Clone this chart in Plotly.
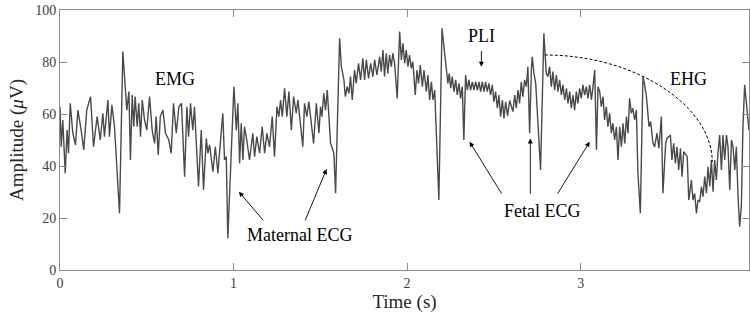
import plotly.graph_objects as go

time_s = [
    0.000, 0.007, 0.016, 0.030, 0.041, 0.049, 0.059, 0.074, 0.089, 0.103,
    0.122, 0.137, 0.154, 0.176, 0.193, 0.214, 0.232, 0.247, 0.256, 0.276,
    0.285, 0.299, 0.314, 0.324, 0.343, 0.362, 0.385, 0.397, 0.406, 0.416,
    0.425, 0.433, 0.445, 0.454, 0.464, 0.474, 0.487, 0.500, 0.516, 0.531,
    0.545, 0.554, 0.566, 0.578, 0.593, 0.608, 0.627, 0.641, 0.654, 0.670,
    0.685, 0.700, 0.718, 0.731, 0.741, 0.752, 0.765, 0.775, 0.798, 0.814,
    0.827, 0.843, 0.852, 0.862, 0.881, 0.895, 0.910, 0.919, 0.938, 0.948,
    0.958, 0.967, 1.002, 1.016, 1.025, 1.035, 1.044, 1.054, 1.063, 1.076,
    1.092, 1.111, 1.121, 1.134, 1.150, 1.165, 1.179, 1.192, 1.207, 1.223,
    1.236, 1.250, 1.261, 1.271, 1.281, 1.294, 1.307, 1.319, 1.333, 1.346,
    1.361, 1.371, 1.384, 1.399, 1.409, 1.422, 1.434, 1.448, 1.461, 1.477,
    1.492, 1.501, 1.509, 1.520, 1.530, 1.540, 1.549, 1.559, 1.569, 1.578,
    1.588, 1.611, 1.621, 1.636, 1.644, 1.655, 1.665, 1.674, 1.684, 1.697,
    1.707, 1.720, 1.732, 1.745, 1.755, 1.765, 1.778, 1.790, 1.803, 1.813,
    1.826, 1.842, 1.851, 1.861, 1.870, 1.880, 1.889, 1.899, 1.909, 1.918,
    1.928, 1.943, 1.957, 1.967, 1.976, 1.986, 1.995, 2.005, 2.014, 2.024,
    2.033, 2.047, 2.057, 2.066, 2.076, 2.088, 2.097, 2.111, 2.120, 2.130,
    2.140, 2.149, 2.159, 2.183, 2.201, 2.216, 2.226, 2.235, 2.243, 2.251,
    2.260, 2.270, 2.280, 2.289, 2.299, 2.308, 2.318, 2.327, 2.337, 2.347,
    2.356, 2.366, 2.376, 2.385, 2.395, 2.405, 2.414, 2.424, 2.433, 2.443,
    2.452, 2.462, 2.471, 2.481, 2.491, 2.500, 2.510, 2.520, 2.529, 2.539,
    2.549, 2.558, 2.568, 2.579, 2.591, 2.610, 2.620, 2.629, 2.639, 2.648,
    2.658, 2.667, 2.677, 2.687, 2.696, 2.706, 2.716, 2.721, 2.731, 2.741,
    2.769, 2.788, 2.802, 2.811, 2.821, 2.831, 2.840, 2.850, 2.860, 2.869,
    2.879, 2.889, 2.898, 2.908, 2.918, 2.927, 2.937, 2.946, 2.956, 2.965,
    2.975, 2.984, 2.994, 3.004, 3.013, 3.023, 3.033, 3.042, 3.052, 3.062,
    3.071, 3.081, 3.091, 3.100, 3.110, 3.119, 3.129, 3.138, 3.148, 3.157,
    3.167, 3.177, 3.186, 3.196, 3.206, 3.215, 3.225, 3.235, 3.244, 3.254,
    3.264, 3.273, 3.282, 3.292, 3.301, 3.311, 3.321, 3.330, 3.344, 3.359,
    3.369, 3.379, 3.394, 3.403, 3.417, 3.426, 3.440, 3.451, 3.465, 3.474,
    3.490, 3.497, 3.509, 3.517, 3.526, 3.536, 3.546, 3.555, 3.565, 3.575,
    3.584, 3.594, 3.614, 3.623, 3.638, 3.647, 3.657, 3.667, 3.676, 3.686,
    3.696, 3.705, 3.715, 3.725, 3.734, 3.744, 3.753, 3.763, 3.772, 3.782,
    3.791, 3.801, 3.811, 3.820, 3.830, 3.840, 3.849, 3.859, 3.869, 3.878,
    3.888, 3.897, 3.907, 3.916, 3.926, 3.935, 3.945, 3.958, 3.970,
]

amplitude_uV = [
    62.8, 47.4, 57.7, 37.2, 53.8, 44.9, 64.1, 52.6, 48.1, 61.5,
    53.8, 46.2, 61.5, 66.7, 47.4, 59.0, 50.0, 60.3, 51.3, 65.4,
    51.3, 63.5, 55.1, 42.3, 21.8, 84.0, 61.5, 68.6, 42.3, 67.3,
    55.1, 66.7, 55.1, 64.1, 51.3, 65.4, 57.7, 53.8, 66.7, 53.8,
    48.7, 59.0, 44.2, 59.0, 61.5, 52.6, 50.0, 44.9, 64.1, 52.6,
    62.8, 64.1, 35.9, 62.8, 51.3, 64.1, 53.8, 62.8, 32.1, 53.8,
    30.8, 50.6, 44.9, 48.1, 37.8, 47.4, 37.2, 44.9, 60.3, 42.3,
    43.6, 12.2, 70.5, 53.8, 64.1, 41.0, 56.4, 42.3, 55.1, 50.0,
    42.3, 52.6, 43.6, 51.3, 44.9, 55.1, 44.9, 52.6, 47.4, 59.0,
    43.6, 62.8, 59.0, 65.4, 59.0, 69.9, 59.0, 68.6, 53.8, 66.7,
    60.3, 65.4, 57.7, 47.4, 64.1, 59.0, 64.7, 55.1, 48.7, 64.1,
    52.6, 62.8, 59.0, 68.0, 61.5, 69.2, 57.7, 48.7, 46.8, 44.9,
    29.5, 89.1, 78.2, 73.1, 66.7, 70.5, 68.0, 74.4, 65.4, 76.9,
    71.8, 79.5, 73.1, 81.4, 73.1, 80.8, 73.7, 79.5, 74.4, 80.8,
    75.0, 82.0, 76.3, 84.6, 74.4, 83.3, 75.6, 82.7, 78.2, 83.3,
    79.5, 66.0, 91.7, 80.8, 87.2, 79.5, 84.6, 78.2, 82.7, 77.6,
    80.1, 67.3, 76.9, 71.8, 78.8, 70.5, 76.9, 68.6, 75.0, 65.4,
    72.4, 65.4, 69.2, 26.9, 93.0, 84.6, 76.9, 71.8, 75.6, 69.9,
    74.4, 68.6, 73.1, 67.3, 71.8, 66.0, 70.5, 50.0, 75.0, 69.2,
    73.1, 69.2, 72.4, 69.2, 72.4, 69.2, 72.4, 68.6, 72.4, 68.6,
    72.4, 68.6, 71.8, 67.3, 71.2, 64.7, 68.6, 62.2, 67.3, 59.0,
    65.4, 58.3, 64.7, 59.3, 65.2, 60.9, 67.3, 62.2, 69.2, 64.1,
    72.4, 66.7, 73.1, 70.5, 78.2, 52.6, 76.9, 82.0, 75.6, 71.8,
    38.5, 91.0, 75.6, 74.4, 78.2, 70.5, 76.3, 69.2, 75.0, 68.6,
    73.1, 67.3, 71.2, 65.4, 69.9, 64.1, 68.6, 62.2, 67.3, 61.5,
    68.6, 64.1, 69.9, 66.0, 71.2, 67.3, 70.5, 66.0, 71.2, 65.4,
    70.5, 76.9, 46.2, 70.5, 68.6, 62.8, 66.7, 57.7, 62.8, 55.1,
    60.3, 52.6, 56.4, 50.0, 55.1, 42.3, 55.1, 47.4, 56.4, 48.7,
    59.0, 52.6, 66.0, 60.3, 62.2, 57.7, 61.5, 37.2, 21.8, 74.4,
    71.2, 66.7, 55.1, 57.1, 48.7, 47.4, 52.6, 46.8, 59.0, 29.5,
    48.7, 50.6, 51.3, 51.9, 42.3, 48.7, 41.0, 47.4, 38.5, 46.8,
    35.9, 45.5, 43.6, 26.9, 34.6, 26.9, 29.5, 21.8, 26.9, 26.3,
    32.1, 28.2, 35.9, 29.5, 39.7, 32.1, 42.3, 30.1, 42.3, 34.6,
    44.9, 51.9, 38.5, 51.9, 42.3, 51.9, 47.4, 30.8, 50.0, 47.4,
    38.5, 47.4, 28.2, 16.7, 24.4, 55.1, 71.2, 61.5, 53.8,
]

x_ticks = [0, 1, 2, 3]
y_ticks = [0, 20, 40, 60, 80, 100]

SERIF = "Liberation Serif, Times New Roman, serif"
AXIS_COL = "#8c8c8c"
TEXT_COL = "#262626"

fig = go.Figure()
fig.add_trace(go.Scatter(
    x=time_s, y=amplitude_uV, mode="lines",
    line=dict(color="#4a4a4a", width=1.4),
    hoverinfo="skip", showlegend=False,
))

# dashed envelope curve (EHG)
fig.add_shape(
    type="path", xref="x", yref="y",
    path="M 2.793 82.7 C 3.330 82.7, 3.761 62.5, 3.758 41.5",
    line=dict(color="black", width=1, dash="3px,2px"),
)

labels = [
    ("EMG", 0.660, 73.5),
    ("PLI", 2.429, 90.0),
    ("EHG", 3.622, 73.5),
    ("Maternal ECG", 1.380, 13.5),
    ("Fetal ECG", 2.778, 22.7),
]
for txt, x, y in labels:
    fig.add_annotation(x=x, y=y, text=txt, showarrow=False,
                       font=dict(family=SERIF, size=18, color="black"),
                       xanchor="center", yanchor="middle")

arrows = [  # (head_x, head_y, tail_x, tail_y)
    (2.428, 78.2, 2.428, 84.8),
    (1.031, 30.1, 1.179, 18.5),
    (1.536, 38.8, 1.409, 18.5),
    (2.360, 49.3, 2.550, 28.8),
    (2.710, 50.6, 2.710, 28.8),
    (3.052, 49.3, 2.862, 28.8),
]
for hx, hy, tx, ty in arrows:
    fig.add_annotation(x=hx, y=hy, ax=tx, ay=ty, xref="x", yref="y",
                       axref="x", ayref="y", text="", showarrow=True,
                       arrowhead=2, arrowsize=1.1, arrowwidth=0.9,
                       arrowcolor="black")

fig.update_layout(
    width=750, height=322,
    margin=dict(l=60, r=1, t=10, b=52),
    paper_bgcolor="white", plot_bgcolor="white",
    font=dict(family=SERIF, color=TEXT_COL),
)
fig.update_xaxes(
    range=[0, 3.97], tickvals=x_ticks, ticktext=[str(v) for v in x_ticks],
    showgrid=False, zeroline=False, showline=True, linecolor=AXIS_COL,
    linewidth=1, mirror="ticks", ticks="inside", ticklen=7,
    tickcolor=AXIS_COL, tickfont=dict(family=SERIF, size=14, color="#404040"),
    title=dict(text="Time (s)", font=dict(family=SERIF, size=19, color=TEXT_COL),
               standoff=4),
)
fig.update_yaxes(
    range=[0, 100], tickvals=y_ticks, ticktext=[str(v) for v in y_ticks],
    showgrid=False, zeroline=False, showline=True, linecolor=AXIS_COL,
    linewidth=1, mirror="ticks", ticks="inside", ticklen=7,
    tickcolor=AXIS_COL, tickfont=dict(family=SERIF, size=14, color="#404040"),
    title=dict(text="Amplitude (<i>μ</i>V)",
               font=dict(family=SERIF, size=19, color=TEXT_COL), standoff=6),
)

fig.write_html("out.html")
